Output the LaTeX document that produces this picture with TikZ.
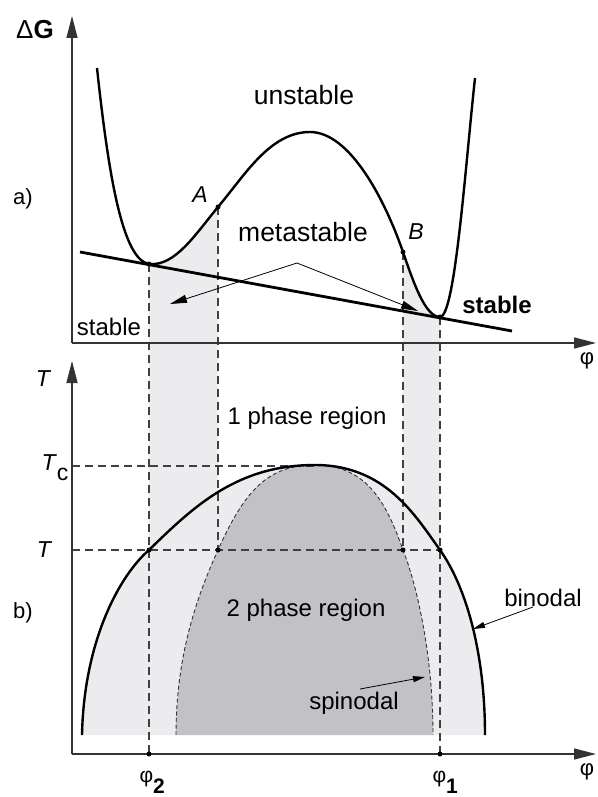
\documentclass[tikz,border=0pt]{standalone}
\usepackage{fontspec}
\setmainfont{Liberation Sans}
\usetikzlibrary{arrows.meta}
\definecolor{lite}{RGB}{236,236,239}
\definecolor{dark}{RGB}{194,194,198}
\tikzset{
  curve/.style={line width=2.4pt},
  guide/.style={line width=1.1pt,black!75,dash pattern=on 8pt off 5pt},
  axis/.style={line width=1.4pt,black!80,-{Triangle[length=22pt,width=11pt]}},
  pointer/.style={line width=0.8pt,-{Triangle[length=17pt,width=8pt]}},
  dot/.style={circle,fill,inner sep=0pt,minimum size=5pt},
  lab/.style={font=\fontsize{24}{28}\selectfont},
  biglab/.style={font=\fontsize{26.5}{30}\selectfont},
  sym/.style={font=\fontsize{22}{26}\selectfont},
}
\begin{document}
\begin{tikzpicture}[x=1pt,y=-1pt]
  \useasboundingbox (0,0) rectangle (597,797);
  \def\Gcurve{(97,68) .. controls (108,170) and (122,262) .. (150,264) .. controls (175,266) and (195,235) .. (218,207) .. controls (245,175) and (270,132) .. (310,132) .. controls (350,132) and (385,200) .. (403,252) .. controls (413,281) and (425,317) .. (440,317) .. controls (455,317) and (465,170) .. (475,78)}
  \def\binodal{(82,735) .. controls (84,640) and (120,575) .. (149,550) .. controls (195,505) and (238,465) .. (315,465) .. controls (385,465) and (415,515) .. (440,550) .. controls (465,585) and (485,650) .. (485,735)}
  \def\spinodal{(176,735) .. controls (176,650) and (200,590) .. (218,550) .. controls (245,490) and (268,465) .. (315,465) .. controls (368,465) and (387,505) .. (403,550) .. controls (415,580) and (433,650) .. (433,735)}
  % shaded areas
  \begin{scope}
    \clip (149,0) rectangle (218,551) (403,0) rectangle (440,551);
    \fill[lite] \Gcurve -- (475,560) -- (97,560) -- cycle;
  \end{scope}
  \fill[lite] \binodal -- cycle;
  \fill[dark] \spinodal -- cycle;
  % key points
  \coordinate (m2) at (149,264); \coordinate (m1) at (440,317);
  \coordinate (pA) at (218,207); \coordinate (pB) at (403,252);
  \coordinate (b2) at (149,550); \coordinate (s2) at (218,550);
  \coordinate (s1) at (403,550); \coordinate (b1) at (440,550);
  \coordinate (x2) at (149,754); \coordinate (x1) at (440,754);
  \coordinate (top) at (315,466);
  \coordinate (o1) at (72,343); \coordinate (o2) at (72,754);
  % guide lines
  \draw[guide] (m2) -- (x2); \draw[guide] (m1) -- (x1);
  \draw[guide] (pA) -- (s2); \draw[guide] (pB) -- (s1);
  \draw[guide] (o2 |- top) -- (top);
  \draw[guide] (o2 |- b1) -- (b1);
  % binodal and spinodal
  \draw[line width=0.9pt,black!80,dash pattern=on 4pt off 2.5pt] \spinodal;
  \draw[curve] \binodal;
  % free energy and common tangent
  \draw[curve] \Gcurve;
  \coordinate (t0) at (80,252); \coordinate (t1) at (512,331);
  \draw[line width=2.8pt] (t0) -- (t1);
  % axes
  \coordinate (yG) at (72,16); \coordinate (xG) at (596,343);
  \coordinate (yT) at (72,361); \coordinate (xT) at (596,754);
  \draw[axis] (o1) -- (yG); \draw[axis] (o1) -- (xG);
  \draw[axis] (o2) -- (yT); \draw[axis] (o2) -- (xT);
  \foreach \p in {m2,m1,pA,pB,b2,s2,s1,b1,x2,x1} \node[dot] at (\p) {};
  % labels
  \node[font=\fontsize{26}{30}\selectfont] (dG) at (35,30) {Δ\textbf{G}};
  \node[sym] (phiA) at (587,361) {φ};
  \node[sym] (phiB) at (587,772) {φ};
  \node[sym] (la) at (23,199) {a)};
  \node[sym] (lb) at (23,613) {b)};
  \node[biglab] (unst) at (304,95) {unstable};
  \node[biglab] (meta) at (303,232) {metastable};
  \node[sym,font=\fontsize{23}{26}\selectfont\itshape] (lA) at (200,195) {A};
  \node[sym,font=\fontsize{23}{26}\selectfont\itshape] (lB) at (416,232) {B};
  \node[lab] (stl) at (109,327) {stable};
  \node[lab,font=\fontsize{24}{28}\selectfont\bfseries] (str) at (497,305) {stable};
  \coordinate (mt) at (297,263); \coordinate (ha) at (170,304); \coordinate (hb) at (418,311);
  \draw[pointer] (mt) -- (ha); \draw[pointer] (mt) -- (hb);
  \node[sym,font=\fontsize{23}{26}\selectfont\itshape] (lT) at (43,379) {T};
  \node[sym,font=\fontsize{23}{26}\selectfont,anchor=base west] (lTc) at (38,470) {\textit{T}\raisebox{-10pt}{c}};
  \node[sym,font=\fontsize{23}{26}\selectfont\itshape] (lTT) at (44,550) {T};
  \node[lab] (one) at (307,418) {1 phase region};
  \node[lab] (two) at (306,610) {2 phase region};
  \node[lab] (bin) at (543,598) {binodal};
  \node[lab] (spi) at (354,703) {spinodal};
  \coordinate (bnTail) at (533,607); \coordinate (bnTip) at (473,629);
  \coordinate (spTail) at (360,689); \coordinate (spTip) at (425,677);
  \draw[line width=0.8pt,-{Triangle[length=12pt,width=6pt]}] (bnTail) -- (bnTip);
  \draw[line width=0.8pt,-{Triangle[length=12pt,width=6pt]}] (spTail) -- (spTip);
  \node[font=\fontsize{21}{24}\selectfont,anchor=base west] (f2) at (136,782) {φ\raisebox{-11pt}{\textbf{2}}};
  \node[font=\fontsize{21}{24}\selectfont,anchor=base west] (f1) at (429,782) {φ\raisebox{-11pt}{\textbf{1}}};
\end{tikzpicture}
\end{document}
